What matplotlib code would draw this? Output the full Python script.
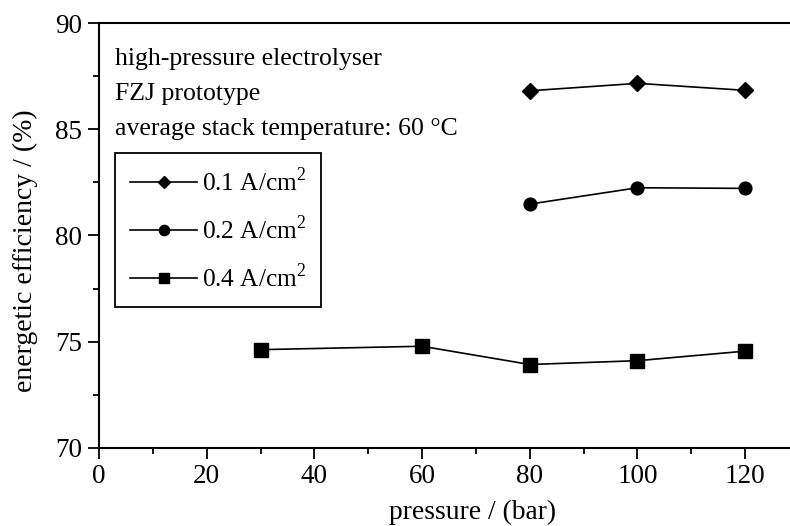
import matplotlib
matplotlib.use('Agg')
import matplotlib.pyplot as plt
from matplotlib.ticker import MultipleLocator

plt.rcParams['font.family'] = ['Liberation Serif', 'DejaVu Serif']
plt.rcParams['mathtext.fontset'] = 'custom'
plt.rcParams['mathtext.rm'] = 'Liberation Serif'

# data
p_01 = [80, 100, 120]
eff_01 = [86.82, 87.17, 86.84]
p_02 = [80, 100, 120]
eff_02 = [81.48, 82.25, 82.22]
p_04 = [30, 60, 80, 100, 120]
eff_04 = [74.62, 74.78, 73.92, 74.10, 74.55]
labels = [r'0.1 A/cm$^{2}$', r'0.2 A/cm$^{2}$', r'0.4 A/cm$^{2}$']
notes = ['high-pressure electrolyser', 'FZJ prototype',
         'average stack temperature: 60 \u00b0C']

fig = plt.figure(figsize=(7.9, 5.26), dpi=100)
# axes run past the right edge, like the cropped original
ax = fig.add_axes([0.1253, 0.1489, 0.9475, 0.8068])

ax.plot(p_01, eff_01, color='black', lw=1.2, marker='D', ms=8.2, label=labels[0])
ax.plot(p_02, eff_02, color='black', lw=1.2, marker='o', ms=9.2, label=labels[1])
ax.plot(p_04, eff_04, color='black', lw=1.2, marker='s', ms=9.4, label=labels[2])

ax.set_xlim(0, 139)
ax.set_ylim(70, 90)
ax.xaxis.set_major_locator(MultipleLocator(20))
ax.xaxis.set_minor_locator(MultipleLocator(10))
ax.yaxis.set_major_locator(MultipleLocator(5))
ax.yaxis.set_minor_locator(MultipleLocator(2.5))
ax.tick_params(which='major', direction='out', length=8, width=1.3, labelsize=19.5, pad=4)
ax.tick_params(which='minor', direction='out', length=4.5, width=1.3)
ax.tick_params(axis='x', which='major', pad=3.5)
for s in ax.spines.values():
    s.set_linewidth(1.5)

ax.set_xlabel('pressure / (bar)', fontsize=19.8)
ax.xaxis.set_label_coords(0.4997, -0.122)
ax.set_ylabel('energetic efficiency / (%)', fontsize=20)
ax.yaxis.set_label_coords(-0.081, 0.4635)

note_y = [88.03, 86.39, 84.74]
for txt, ny in zip(notes, note_y):
    ax.text(3.0, ny, txt, fontsize=18.5, va='baseline', ha='left')

leg = ax.legend(loc='upper left', bbox_to_anchor=(0.0214, 0.695), borderaxespad=0,
                fontsize=18.2, frameon=True, fancybox=False, edgecolor='black',
                handlelength=2.65, handletextpad=0.2, labelspacing=0.8,
                borderpad=0.6, markerscale=0.8, framealpha=1)
leg.get_frame().set_linewidth(1.3)

fig.savefig('out.png', dpi=100)
